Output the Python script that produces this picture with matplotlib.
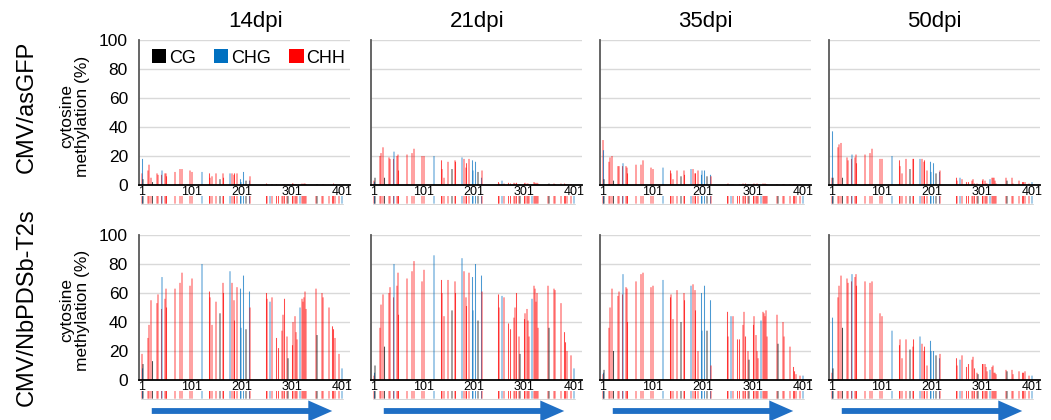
import matplotlib
matplotlib.use("Agg")
import matplotlib.pyplot as plt
from matplotlib.patches import Patch, FancyArrowPatch

plt.rcParams["font.family"] = ["Liberation Sans", "DejaVu Sans"]

# cytosine positions along the amplicon and their sequence context
SITE_POS = [1, 2, 3, 13, 15, 19, 22, 31, 33, 40, 41, 47, 49, 50, 67, 77, 81, 97, 101,
            121, 136, 137, 141, 149, 157, 163, 164, 177, 181, 185, 186, 191, 198, 199,
            204, 209, 216, 217, 250, 251, 257, 261, 270, 274, 281, 283, 286, 291, 293,
            302, 303, 307, 309, 311, 317, 321, 323, 325, 327, 329, 349, 351, 361, 363,
            375, 382, 384, 387, 395, 401]
SITE_CTX = ["CHH", "CHG", "CG", "CHH", "CHH", "CHH", "CG", "CHH", "CHH", "CHH", "CHG",
            "CHH", "CHH", "CHH", "CHH", "CHH", "CHH", "CHH", "CHH", "CHG", "CHH", "CHH",
            "CHH", "CHH", "CG", "CHH", "CHH", "CHG", "CHH", "CHH", "CHH", "CHH", "CHG",
            "CHG", "CHG", "CG", "CHG", "CHH", "CHH", "CHH", "CHG", "CHH", "CHH", "CHH",
            "CHH", "CHH", "CHH", "CHH", "CG", "CHH", "CHH", "CHH", "CHH", "CHH", "CHG",
            "CHH", "CHH", "CHH", "CHH", "CHH", "CHH", "CG", "CHH", "CHH", "CHH", "CHH",
            "CHH", "CHH", "CHH", "CHG"]

# methylation (%) per site - top row: CMV/asGFP
GFP_14 = [8, 18, 4, 10, 14, 5, 2, 8, 7, 7, 10, 8, 8, 6, 9, 11, 11, 10, 9, 9, 8, 5, 6, 8, 4,
          8, 5, 8, 8, 7, 8, 8, 4, 2, 9, 3, 3, 6, 1, 0.5, 0, 0.5, 0.5, 0, 0, 0.5, 0.5, 0,
          0.5, 1, 1, 0.5, 0.5, 0, 0, 1, 0.5, 1, 1, 0.5, 0, 0.5, 0, 0.5, 0, 0, 1, 0.5, 0, 0]
GFP_21 = [3, 2, 5, 20, 22, 26, 5, 19, 18, 18, 23, 20, 21, 10, 21, 22, 25, 20, 20, 20, 17,
          11, 5, 16, 11, 17, 16, 19, 18, 12, 15, 18, 17, 10, 16, 9, 5, 10, 2, 1, 3, 1, 1.5,
          1, 1.5, 1, 1.5, 0.5, 0.5, 1, 1.5, 1, 1, 0.5, 0.5, 2, 1.5, 1, 1.5, 1, 0.5, 1, 1,
          0.5, 1, 1, 0.5, 0.5, 0.5, 0]
GFP_35 = [31, 24, 4, 16, 19, 20, 3, 13, 13, 13, 15, 13, 12, 8, 14, 14, 17, 12, 11, 12, 10,
          8, 4, 10, 6, 10, 7, 11, 11, 8, 8, 10, 7, 10, 10, 6, 7, 6, 0.5, 1, 0.5, 0.5, 0,
          0.5, 1, 0.5, 1, 0.5, 0, 0.5, 1, 0.5, 1, 0.5, 0, 1, 0.5, 1, 0.5, 0.5, 0.5, 0, 0.5,
          0.5, 0.5, 0.5, 0.5, 0.5, 0, 0]
GFP_50 = [5, 37, 5, 26, 28, 29, 5, 19, 17, 18, 21, 19, 21, 15, 21, 22, 25, 18, 18, 20, 17,
          13, 8, 18, 11, 18, 18, 18, 18, 16, 17, 10, 16, 9, 15, 8, 9, 10, 5, 3, 5, 4, 2, 2,
          3, 4, 1, 1, 0.5, 3, 4, 3, 1, 1, 4, 5, 5, 5, 3, 1, 5, 3, 5, 1, 3, 2, 2, 2, 1, 2]
# bottom row: CMV/NbPDSb-T2s
PDS_14 = [18, 8, 11, 29, 38, 55, 13, 53, 59, 49, 71, 56, 63, 50, 63, 67, 74, 65, 70, 80,
          61, 57, 38, 54, 46, 67, 60, 75, 67, 55, 41, 64, 63, 36, 72, 35, 61, 50, 60, 56,
          54, 57, 29, 22, 34, 45, 56, 30, 15, 24, 40, 44, 33, 28, 50, 56, 54, 57, 61, 49,
          63, 31, 60, 57, 50, 37, 35, 29, 18, 8]
PDS_21 = [3, 5, 10, 36, 52, 59, 23, 60, 64, 57, 80, 65, 74, 45, 70, 75, 82, 68, 76, 86,
          69, 60, 44, 69, 48, 68, 60, 84, 75, 57, 51, 74, 71, 48, 80, 41, 72, 61, 59, 50,
          58, 57, 39, 35, 43, 50, 60, 30, 18, 42, 46, 49, 41, 30, 56, 65, 63, 54, 60, 36,
          65, 36, 63, 62, 53, 33, 26, 20, 17, 8]
PDS_35 = [4, 5, 7, 36, 50, 63, 20, 58, 61, 59, 73, 64, 63, 40, 68, 73, 74, 64, 65, 69,
          57, 59, 42, 62, 40, 60, 55, 65, 66, 62, 48, 20, 60, 34, 65, 34, 55, 10, 47, 30,
          44, 44, 28, 28, 38, 47, 30, 20, 14, 38, 44, 31, 20, 15, 41, 47, 46, 44, 48, 30,
          45, 25, 40, 30, 23, 9, 6, 4, 3, 3]
PDS_50 = [5, 43, 8, 57, 65, 72, 36, 70, 67, 68, 73, 71, 73, 65, 68, 67, 68, 46, 44, 34,
          24, 28, 15, 28, 21, 23, 28, 30, 25, 20, 23, 10, 27, 20, 20, 17, 15, 18, 15, 10,
          14, 17, 9, 11, 14, 16, 8, 5, 4, 11, 11, 11, 9, 6, 7, 9, 10, 5, 5, 4, 7, 6, 7, 4,
          6, 5, 5, 6, 3, 3]

TIMEPOINTS = ["14dpi", "21dpi", "35dpi", "50dpi"]
ROWS = ["CMV/asGFP", "CMV/NbPDSb-T2s"]
DATA = [[GFP_14, GFP_21, GFP_35, GFP_50], [PDS_14, PDS_21, PDS_35, PDS_50]]
XTICKS = [1, 101, 201, 301, 401]
CTX_COLORS = {"CG": "#000000", "CHG": "#0070C0", "CHH": "#FF0000"}

W, H = 1051, 420
fig = plt.figure(figsize=(W / 100, H / 100), dpi=100)

lefts = [139, 371, 600, 829]
width = 211
bases = [185, 380]
title_x = [256, 477, 705, 934]
site_colors = [CTX_COLORS[c] for c in SITE_CTX]

for r in range(2):
    for c in range(4):
        l = lefts[c]
        ax = fig.add_axes([l / W, 1 - bases[r] / H, width / W, 145 / H])
        # thin bars -> drawn as vertical lines so that none vanish below one pixel
        ax.vlines(SITE_POS, 0, DATA[r][c], colors=site_colors, linewidth=0.75,
                  alpha=0.7, zorder=3, snap=False)
        ax.set_xlim(-5, 417)
        ax.set_ylim(0, 100)
        ax.set_yticks(range(0, 101, 20))
        ax.grid(axis="y", color="#d9d9d9", linewidth=1, zorder=0)
        ax.set_axisbelow(True)
        for s in ("top", "right"):
            ax.spines[s].set_visible(False)
        ax.spines["left"].set_color("#595959")
        ax.spines["left"].set_linewidth(1.3)
        ax.spines["bottom"].set_color("black")
        ax.spines["bottom"].set_linewidth(1.3)
        ax.spines["bottom"].set_zorder(4)
        ax.set_xticks(XTICKS)
        ax.set_xticklabels([str(t) for t in XTICKS], fontsize=9)
        ax.tick_params(axis="x", length=0, pad=0.5)
        ax.tick_params(axis="y", length=0, pad=8, labelsize=12.5)
        if c > 0:
            ax.set_yticklabels([])

        # strip of cytosine positions under each panel
        sax = fig.add_axes([l / W, 1 - (bases[r] + 20) / H, width / W, 9 / H])
        sax.vlines(SITE_POS, 0.15, 1.0, colors=site_colors, linewidth=0.7, alpha=0.7,
                   snap=False)
        sax.plot([0, 402], [0.05, 0.05], color="#d0d0d0", linewidth=1.2)
        sax.set_xlim(-5, 417)
        sax.set_ylim(0, 1)
        sax.axis("off")

        if r == 0 and c == 0:
            handles = [Patch(facecolor=CTX_COLORS[k], edgecolor="none", label=k)
                       for k in ("CG", "CHG", "CHH")]
            ax.legend(handles=handles, ncol=3, loc="upper left",
                      bbox_to_anchor=(0.01, 1.01), frameon=False, fontsize=13,
                      handlelength=0.8, handleheight=0.8, handletextpad=0.15,
                      columnspacing=1.0, borderaxespad=0.2)
        if r == 0:
            fig.text(title_x[c] / W, 1 - 21 / H, TIMEPOINTS[c], fontsize=16,
                     ha="center", va="center")
        else:
            x0, x1 = l + 10, l + 196
            arr = FancyArrowPatch((x0 / W, 1 - 411 / H), (x1 / W, 1 - 411 / H),
                                  transform=fig.transFigure, color="#1F6FC5",
                                  arrowstyle="simple,head_length=0.82,head_width=0.72,tail_width=0.2",
                                  mutation_scale=21, linewidth=0)
            fig.add_artist(arr)

for r in range(2):
    fig.text(27 / W, 1 - [107, 307][r] / H, ROWS[r], rotation=90, fontsize=17,
             ha="center", va="center")
    fig.text(75 / W, 1 - [116, 310][r] / H, "cytosine\nmethylation (%)", rotation=90,
             fontsize=12.5, ha="center", va="center", linespacing=1.05)

fig.savefig("out.png", dpi=100)
